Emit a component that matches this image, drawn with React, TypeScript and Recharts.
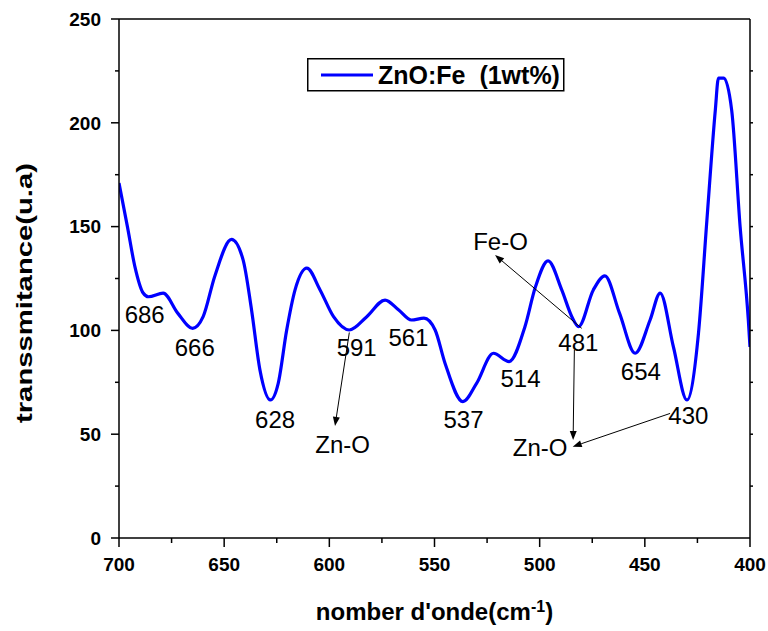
import React from 'react';
import { LineChart, Line, XAxis, YAxis, ReferenceDot, ReferenceLine, Legend } from 'recharts';

// FTIR spectrum (x descending 700 -> 400)
const wavenumber = [700, 696, 692.5, 688.5, 686, 679, 672, 665, 660, 654.5, 646.5, 641, 637, 633, 628, 624.3, 620.3, 616.3, 610.7, 604.4, 598, 590.5, 582.2, 573.5, 567, 561, 555, 549.7, 545, 536.5, 530, 522, 514.5, 507, 502, 496, 489.5, 484.7, 481.5, 474.5, 469, 462, 454.6, 447.5, 442.7, 436.4, 430, 424.5, 420.5, 416.5, 415, 412.5, 408.7, 404.7, 400.8, 400];
const transmittance = [171, 150, 131, 118, 116.2, 118, 108.2, 101, 106.6, 126, 143.8, 134, 110, 81, 66.5, 74.5, 100, 119.5, 130, 119.5, 106.6, 100.2, 106.6, 114.6, 109.8, 105, 105.9, 100.2, 84.2, 65.7, 74.5, 89, 85, 101.8, 121, 133.5, 119.5, 106.6, 101.8, 119.5, 126.3, 108.2, 89, 105, 118, 92, 66.5, 98.6, 153, 206, 221.5, 221.5, 206, 150, 105, 92];

const seriesName = 'ZnO:Fe  (1wt%)';
const xTitle = "nomber d'onde(cm";
const yTitle = 'transsmitance(u.a)';

const xTicks = [700, 675, 650, 625, 600, 575, 550, 525, 500, 475, 450, 425, 400];
const yTicks = [0, 25, 50, 75, 100, 125, 150, 175, 200, 225, 250];
const rightTicks = [25, 50, 75, 100, 125, 150, 175, 200, 225];

// peak labels (text centre in data units)
const noteText = ['686', '666', '628', '591', '561', '537', '514', '481', '654', '430', 'Zn-O', 'Zn-O', 'Fe-O'];
const noteX = [687.8, 664, 625.8, 587, 562.4, 536.2, 509.1, 481.6, 451.9, 429.3, 593.7, 499.8, 518.6];
const noteY = [107.7, 91.8, 57.3, 91.8, 96.7, 57.3, 76.8, 94.2, 80.5, 59.2, 45, 43.6, 142.7];

// arrows: start -> head
const arrowFromX = [590.5, 480, 483.5, 438];
const arrowFromY = [99, 101, 90.6, 60];
const arrowToX = [597.3, 521.2, 484.1, 484.3];
const arrowToY = [54, 136.3, 47.2, 44];

const data = wavenumber.map((x, i) => ({ x, y: transmittance[i] }));

const FONT = "'Liberation Sans', Arial, sans-serif";
const AX = { stroke: '#000', strokeWidth: 1.5 };

const bottomTick = (p: any) => {
  const v = p.payload.value;
  const axisY = p.y - 11 - 9;
  const major = v % 50 === 0;
  return (
    <g>
      <line x1={p.x} x2={p.x} y1={axisY} y2={axisY + (major ? 9 : 5)} {...AX} />
      {major && (
        <text x={p.x} y={axisY + 20} dy="0.71em" textAnchor="middle" fontFamily={FONT} fontWeight="bold" fontSize={19} fill="#000">
          {v}
        </text>
      )}
    </g>
  );
};

const topTick = (p: any) => {
  const v = p.payload.value;
  const axisY = p.y + 2 + 10;
  const major = v % 50 === 0;
  return <line x1={p.x} x2={p.x} y1={axisY} y2={axisY - (major ? 10 : 5)} {...AX} />;
};

const leftTick = (p: any) => {
  const v = p.payload.value;
  const axisX = p.x + 10 + 8;
  const major = v % 50 === 0;
  return (
    <g>
      <line x1={axisX} x2={axisX - (major ? 8 : 4)} y1={p.y} y2={p.y} {...AX} />
      {major && (
        <text x={axisX - 18} y={p.y} dy="0.36em" textAnchor="end" fontFamily={FONT} fontWeight="bold" fontSize={19} fill="#000">
          {v}
        </text>
      )}
    </g>
  );
};

const rightTick = (p: any) => {
  const axisX = p.x - 2 - 3;
  return <line x1={axisX} x2={axisX + 3} y1={p.y} y2={p.y} {...AX} />;
};

const yLabel = (p: any) => {
  const vb = p.viewBox || { x: 0, y: 19, width: 119, height: 519 };
  const cx = vb.x + 25;
  const cy = vb.y + vb.height / 2 + 14.5;
  return (
    <text x={cx} y={cy} dy="0.3em" transform={`rotate(-90 ${cx} ${cy})`} textAnchor="middle" fontFamily={FONT} fontWeight="bold" fontSize={22} textLength={260} lengthAdjust="spacingAndGlyphs" fill="#000">
      {yTitle}
    </text>
  );
};

const xLabel = (p: any) => {
  const vb = p.viewBox || { x: 119, y: 538, width: 631, height: 93 };
  const cx = vb.x + vb.width / 2;
  return (
    <text x={cx} y={vb.y + 82} textAnchor="middle" fontFamily={FONT} fontWeight="bold" fontSize={24} fill="#000">
      {xTitle}
      <tspan dy={-8} fontSize={16}>-1</tspan>
      <tspan dy={8}>)</tspan>
    </text>
  );
};

const arrowShape = (p: any) => {
  const { x1, y1, x2, y2 } = p;
  const dx = x2 - x1;
  const dy = y2 - y1;
  const len = Math.hypot(dx, dy) || 1;
  const ux = dx / len;
  const uy = dy / len;
  const L = 9;
  const W = 3.5;
  const bx = x2 - ux * L;
  const by = y2 - uy * L;
  const pts = `${x2},${y2} ${bx - uy * W},${by + ux * W} ${bx + uy * W},${by - ux * W}`;
  return (
    <g>
      <line x1={x1} y1={y1} x2={bx} y2={by} stroke="#000" strokeWidth={1} />
      <polygon points={pts} fill="#000" />
    </g>
  );
};

const renderLegend = (props: any) => {
  const item = props.payload && props.payload[0];
  return (
    <svg width={258} height={34} style={{ display: 'block' }}>
      <rect x={0.75} y={0.75} width={256} height={32} fill="#fff" stroke="#000" strokeWidth={1.5} />
      <line x1={14} x2={66} y1={17} y2={17} stroke="#0000ff" strokeWidth={3} />
      <text x={71} y={17} dy="0.36em" fontFamily={FONT} fontWeight="bold" fontSize={25} fill="#000" style={{ whiteSpace: 'pre' }}>
        {item ? item.value : seriesName}
      </text>
    </svg>
  );
};

export default function App() {
  return (
    <div style={{ position: 'fixed', left: 0, top: 0, background: '#fff' }}>
      <LineChart width={768} height={631} data={data} margin={{ top: 18, right: 17, bottom: 0, left: 0 }}>
        <XAxis
          xAxisId={0}
          dataKey="x"
          type="number"
          domain={[400, 700]}
          reversed
          allowDataOverflow
          ticks={xTicks}
          interval={0}
          height={93}
          tickSize={9}
          tickMargin={11}
          tickLine={false}
          axisLine={AX}
          tick={bottomTick}
          label={xLabel}
        />
        <XAxis
          xAxisId="top"
          orientation="top"
          type="number"
          domain={[400, 700]}
          reversed
          allowDataOverflow
          ticks={xTicks}
          interval={0}
          height={1}
          tickSize={10}
          tickMargin={2}
          tickLine={false}
          axisLine={AX}
          tick={topTick}
        />
        <YAxis
          yAxisId={0}
          type="number"
          domain={[0, 250]}
          allowDataOverflow
          ticks={yTicks}
          interval={0}
          width={119}
          tickSize={8}
          tickMargin={10}
          tickLine={false}
          axisLine={AX}
          tick={leftTick}
          label={yLabel}
        />
        <YAxis
          yAxisId="right"
          orientation="right"
          type="number"
          domain={[0, 250]}
          allowDataOverflow
          ticks={rightTicks}
          interval={0}
          width={1}
          tickSize={3}
          tickMargin={2}
          tickLine={false}
          axisLine={AX}
          tick={rightTick}
        />
        <Legend
          layout="vertical"
          align="center"
          verticalAlign="middle"
          wrapperStyle={{ position: 'absolute', left: 307, top: 58, width: 258, height: 34 }}
          content={renderLegend}
        />
        <Line
          xAxisId={0}
          yAxisId={0}
          name={seriesName}
          dataKey="y"
          type="monotone"
          stroke="#0000ff"
          strokeWidth={3.2}
          dot={false}
          activeDot={false}
          isAnimationActive={false}
        />
        {noteText.map((t, i) => (
          <ReferenceDot
            key={'n' + i}
            xAxisId={0}
            yAxisId={0}
            x={noteX[i]}
            y={noteY[i]}
            r={0}
            shape={(p: any) => (
              <text x={p.cx} y={p.cy} dy="0.36em" textAnchor="middle" fontFamily={FONT} fontSize={24} fill="#000">
                {t}
              </text>
            )}
          />
        ))}
        {arrowFromX.map((x, i) => (
          <ReferenceLine
            key={'a' + i}
            xAxisId={0}
            yAxisId={0}
            segment={[
              { x, y: arrowFromY[i] },
              { x: arrowToX[i], y: arrowToY[i] },
            ]}
            shape={arrowShape}
          />
        ))}
      </LineChart>
    </div>
  );
}
